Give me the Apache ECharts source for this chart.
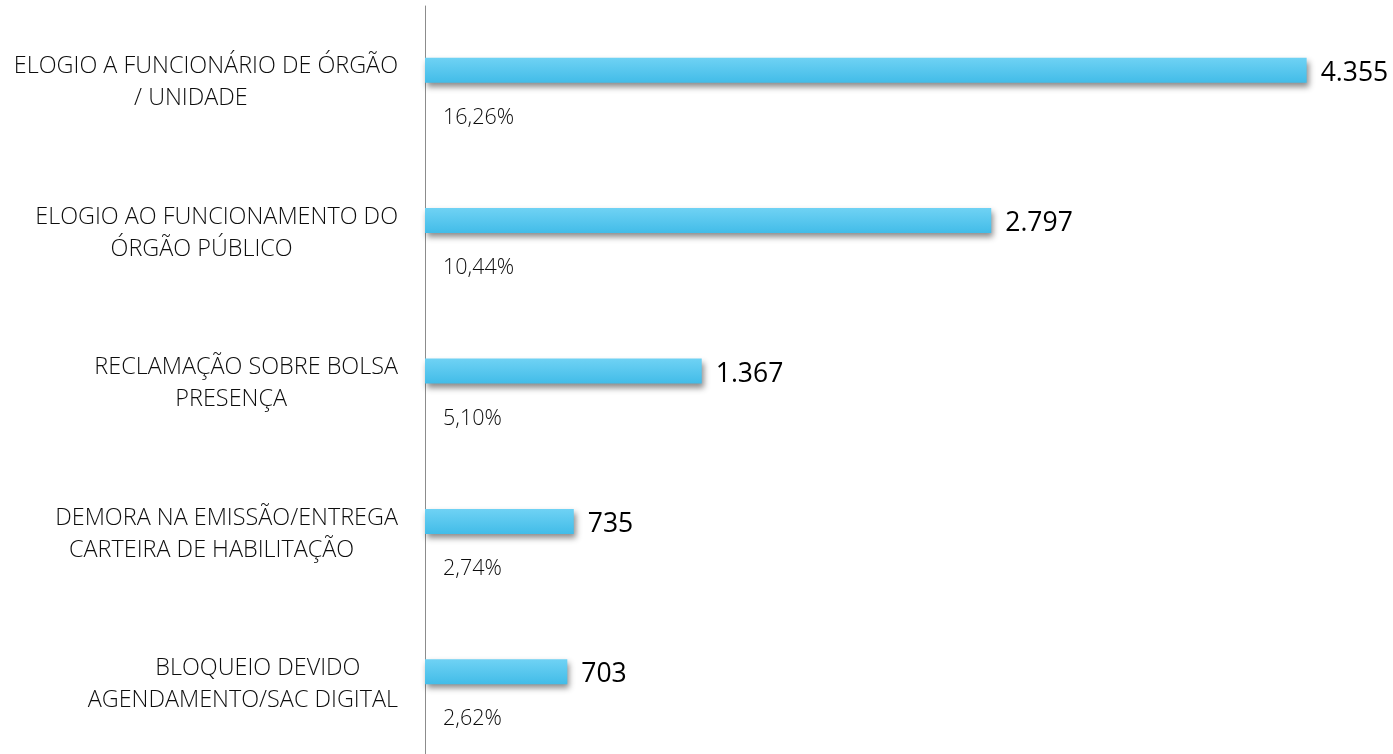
<!DOCTYPE html>
<html>
<head>
<meta charset="utf-8">
<script src="https://cdn.jsdelivr.net/npm/echarts@6/dist/echarts.min.js"></script>
<style>
html,body{margin:0;padding:0;background:#fff;}
#chart{width:1393px;height:754px;}
</style>
</head>
<body>
<div id="chart"></div>
<script>
const categories = [
  "ELOGIO A FUNCIONÁRIO DE ÓRGÃO\n/ UNIDADE",
  "ELOGIO AO FUNCIONAMENTO DO\nÓRGÃO PÚBLICO",
  "RECLAMAÇÃO SOBRE BOLSA\nPRESENÇA",
  "DEMORA NA EMISSÃO/ENTREGA\nCARTEIRA DE HABILITAÇÃO",
  "BLOQUEIO DEVIDO\nAGENDAMENTO/SAC DIGITAL"
];
const counts = [4355, 2797, 1367, 735, 703];
const percents = [16.26, 10.44, 5.10, 2.74, 2.62];

const fmtCount = v => String(v).replace(/\B(?=(\d{3})+(?!\d))/g, '.');
const fmtPct = v => v.toFixed(2).replace('.', ',') + '%';

const CAT_SIZE = 23.4;
const TEXT_COLOR = '#0d0d0d';
const ctx = document.createElement('canvas').getContext('2d');
ctx.font = '300 ' + CAT_SIZE + 'px "Open Sans"';
const baseStyle = { fontFamily: 'Open Sans', fontWeight: 300, fontSize: CAT_SIZE, lineHeight: 32, color: TEXT_COLOR };
const rich = {};
categories.forEach((c, i) => {
  const lines = c.split('\n');
  const w1 = ctx.measureText(lines[0]).width;
  const w2 = ctx.measureText(lines[1]).width;
  let pad1 = 0, pad2 = 0;
  if (w1 >= w2) pad2 = Math.max(0, (w1 - w2) / 2 + 15);
  else pad1 = Math.max(0, (w2 - w1) / 2 - 15);
  rich['a' + i] = Object.assign({}, baseStyle, { padding: [0, pad1, 0, 0] });
  rich['b' + i] = Object.assign({}, baseStyle, { padding: [0, pad2, 0, 0] });
});

const chart = echarts.init(document.getElementById('chart'));
chart.setOption({
  animation: false,
  backgroundColor: '#ffffff',
  grid: [
    { left: 425, right: 57, top: 0, bottom: 2, containLabel: false },
    { left: 425, right: 57, top: 6, bottom: 0, containLabel: false }
  ],
  xAxis: [
    { gridIndex: 0, type: 'value', min: 0, max: 4500, show: false },
    { gridIndex: 1, type: 'value', min: 0, max: 1, show: false }
  ],
  yAxis: [
    {
      gridIndex: 0, type: 'category', data: categories, inverse: true,
      axisLine: { show: false }, axisTick: { show: false }, splitLine: { show: false },
      axisLabel: {
        margin: 27, align: 'right', verticalAlign: 'middle', padding: [15, 0, 0, 0],
        formatter: (v, i) => { const l = v.split('\n'); return '{a' + i + '|' + l[0] + '}\n{b' + i + '|' + l[1] + '}'; },
        rich: rich
      }
    },
    {
      gridIndex: 1, type: 'value', min: 0, max: 1,
      axisLine: { show: true, lineStyle: { color: '#8c8c8c', width: 1 } },
      axisTick: { show: false }, axisLabel: { show: false }, splitLine: { show: false }
    }
  ],
  series: [
    {
      name: 'Quantidade',
      type: 'bar', xAxisIndex: 0, yAxisIndex: 0,
      data: counts, barWidth: 25, barGap: '-60%',
      itemStyle: {
        color: new echarts.graphic.LinearGradient(0, 0, 0, 1, [
          { offset: 0, color: '#6fd2f4' },
          { offset: 1, color: '#42bce8' }
        ]),
        shadowColor: 'rgba(0,0,0,0.45)', shadowBlur: 6, shadowOffsetX: 2, shadowOffsetY: 4
      },
      label: {
        show: true, position: 'right', distance: 14, offset: [0, 3],
        formatter: p => fmtCount(p.value),
        fontFamily: 'Open Sans', fontSize: 26.5, color: '#000000'
      }
    },
    {
      name: 'Percentual',
      type: 'bar', xAxisIndex: 0, yAxisIndex: 0,
      data: percents, barWidth: 25, barGap: '-60%',
      itemStyle: { color: 'rgba(0,0,0,0)' },
      label: {
        show: true, position: 'insideLeft', distance: 0, offset: [18, 37.5],
        formatter: p => fmtPct(p.value),
        fontFamily: 'Open Sans', fontWeight: 300, fontSize: 21.5, color: TEXT_COLOR
      }
    }
  ]
});
</script>
</body>
</html>
